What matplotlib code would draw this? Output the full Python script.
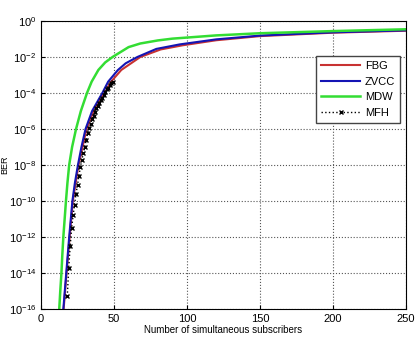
import matplotlib
matplotlib.use("Agg")
import matplotlib.pyplot as plt
import numpy as np

plt.rcParams['font.family'] = ['Liberation Sans', 'DejaVu Sans']
plt.rcParams['mathtext.fontset'] = 'custom'
plt.rcParams['mathtext.rm'] = 'Liberation Sans'

# FBG (red)
fbg_n = [15.5, 17.5, 19.6, 21.8, 25.7, 31.2, 36, 43.5, 48, 55, 68, 82, 97, 120, 150, 200, 250]
fbg_log = [-16, -14, -12, -10, -8, -6, -5, -4, -3.37, -2.72, -2.0, -1.58, -1.35, -1.07, -0.84, -0.65, -0.54]

# ZVCC (blue)
zvcc_n = [15.3, 16.3, 17.3, 18.3, 19.3, 20.4, 21.5, 23.2, 25.3, 27.7, 30.5, 35, 42, 46, 52.7, 58, 66, 79, 95, 120, 150, 200, 250]
zvcc_log = [-16, -15, -14, -13, -12, -11, -10, -9, -8, -7, -6, -5, -4, -3.37, -2.72, -2.35, -2.0, -1.55, -1.3, -1.02, -0.81, -0.63, -0.52]

# MDW (green)
mdw_n = [12.5, 13.2, 14, 14.6, 15.3, 16.2, 17.1, 18.1, 19.3, 21.3, 24, 27.3, 31.5, 34.7, 39.3, 44, 49, 60, 68, 80, 90, 120, 150, 200, 250]
mdw_log = [-16, -15, -14, -13, -12, -11, -10, -9, -8, -7, -6, -5, -4, -3.37, -2.72, -2.3, -2.0, -1.45, -1.25, -1.08, -0.98, -0.8, -0.68, -0.56, -0.46]

# MFH (black dotted, x markers)
mfh_n = list(range(18, 50))
mfh_log = [-15.3, -13.7, -12.5, -11.5, -10.8, -10.2, -9.6, -9.1, -8.6, -8.1, -7.7, -7.35,
           -7.0, -6.6, -6.2, -5.95, -5.7, -5.45, -5.25, -5.05, -4.85, -4.7, -4.55, -4.4,
           -4.25, -4.1, -3.95, -3.8, -3.7, -3.58, -3.47, -3.37]

fig = plt.figure(figsize=(4.15, 3.42), dpi=100)
ax = fig.add_axes([41/415, 33/342, 365/415, 288/342])

ax.semilogy(fbg_n, 10.0**np.array(fbg_log), color='#c83232', linewidth=1.5, label='FBG')
ax.semilogy(zvcc_n, 10.0**np.array(zvcc_log), color='#1414b4', linewidth=1.5, label='ZVCC')
ax.semilogy(mdw_n, 10.0**np.array(mdw_log), color='#33dd33', linewidth=1.8, label='MDW')
ax.semilogy(mfh_n, 10.0**np.array(mfh_log), color='black', linestyle=':', linewidth=1,
            marker='x', markersize=3.5, markeredgewidth=1, label='MFH')

ax.set_xlim(0, 250)
ax.set_ylim(1e-16, 1)
ax.set_xticks([0, 50, 100, 150, 200, 250])
ax.set_yticks([10.0**k for k in range(-16, 1, 2)])
ax.minorticks_off()
ax.tick_params(direction='in', labelsize=8, length=3)
ax.grid(True, linestyle=':', color='#555555', linewidth=0.8)

ax.set_xlabel('Number of simultaneous subscribers', fontsize=7, labelpad=1)
ax.set_ylabel('BER', fontsize=6.5)
ax.yaxis.set_label_coords(-0.086, 0.5)

ax.legend(loc='upper right', bbox_to_anchor=(0.984, 0.878), borderaxespad=0,
          fontsize=8, fancybox=False, edgecolor='#444444', framealpha=1,
          handlelength=3.5, borderpad=0.45, labelspacing=0.5, handletextpad=0.4)

fig.savefig('out.png', dpi=100)
